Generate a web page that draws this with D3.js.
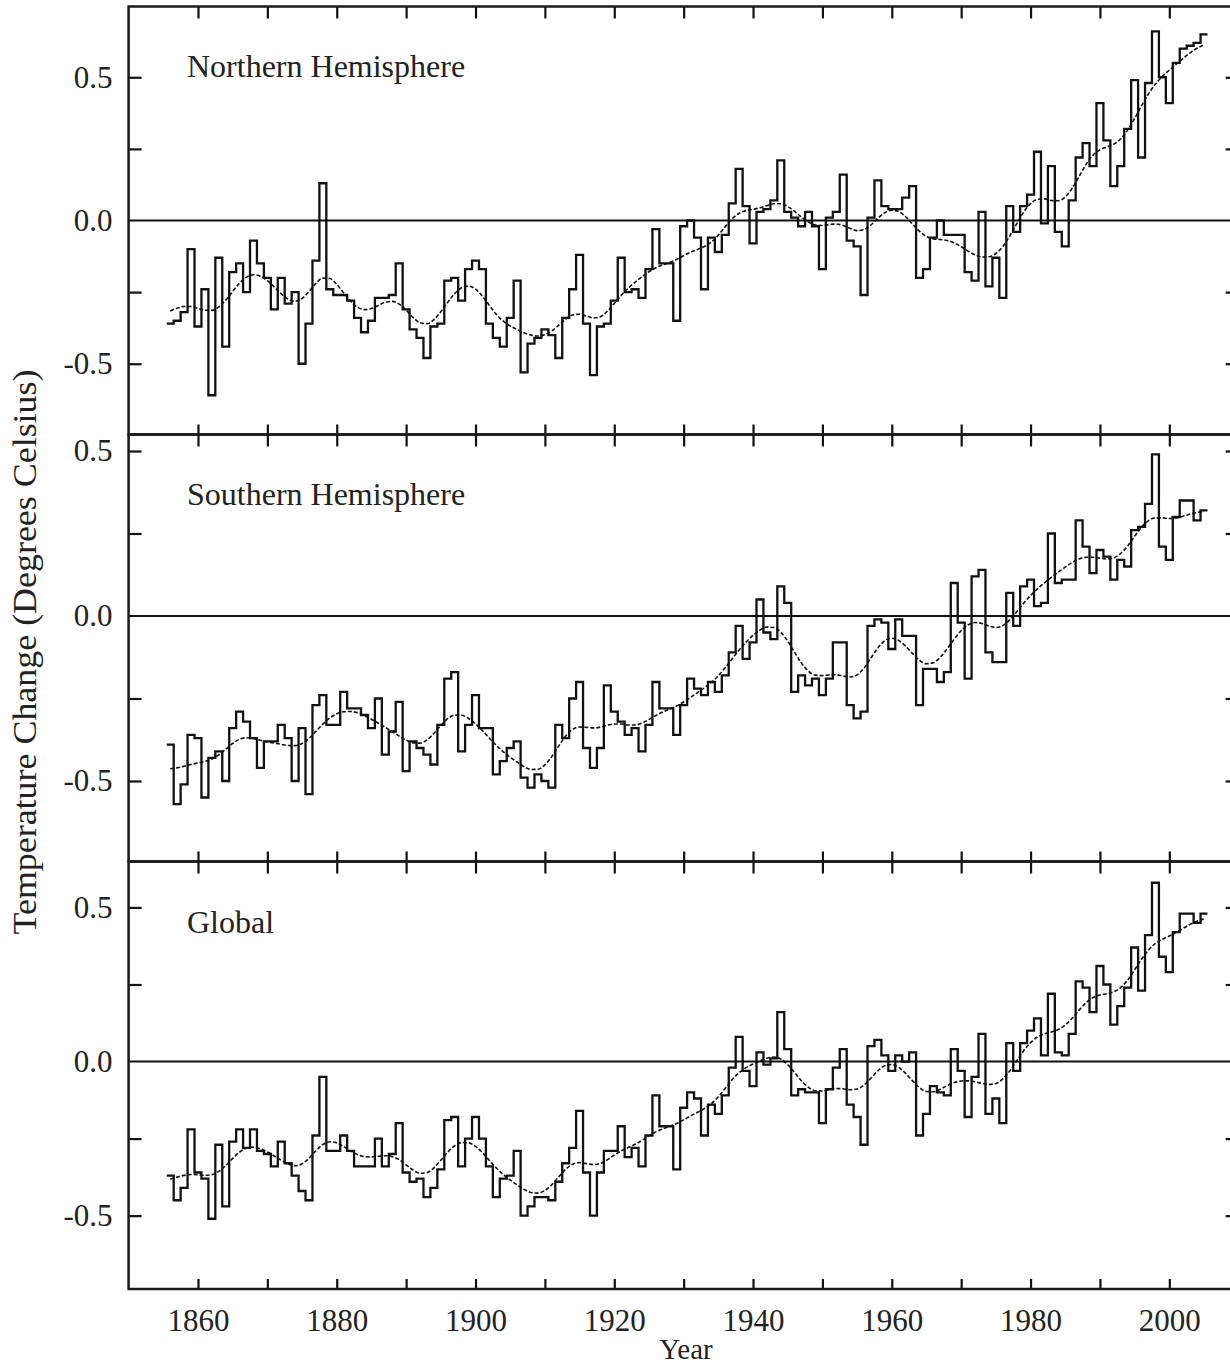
<!DOCTYPE html>
<html>
<head>
<meta charset="utf-8">
<script src="https://cdn.jsdelivr.net/npm/d3@7"></script>
<style>
  body { margin: 0; background: #fff; }
  svg text { font-family: "Liberation Serif", "DejaVu Serif", serif; fill: #222; }
</style>
</head>
<body>
<div id="chart"></div>
<script>
// annual anomalies, first value is 1856, last is 2005
const firstYear = 1856;

const nhTemps = [
  -0.36, -0.35, -0.32, -0.10, -0.37, -0.24, -0.61, -0.13, -0.44, -0.18,
  -0.15, -0.25, -0.07, -0.15, -0.20, -0.31, -0.20, -0.29, -0.25, -0.50,
  -0.36, -0.14,  0.13, -0.24, -0.26, -0.26, -0.28, -0.34, -0.39, -0.35,
  -0.27, -0.27, -0.26, -0.15, -0.31, -0.38, -0.41, -0.48, -0.37, -0.36,
  -0.21, -0.20, -0.28, -0.17, -0.14, -0.17, -0.36, -0.41, -0.44, -0.34,
  -0.21, -0.53, -0.43, -0.41, -0.38, -0.40, -0.48, -0.34, -0.24, -0.12,
  -0.36, -0.54, -0.37, -0.36, -0.28, -0.13, -0.25, -0.24, -0.27, -0.17,
  -0.03, -0.15, -0.15, -0.35, -0.02,  0.00, -0.06, -0.24, -0.06, -0.11,
  -0.05,  0.06,  0.18,  0.05, -0.08,  0.03,  0.04,  0.07,  0.21,  0.03,
   0.01, -0.02,  0.03, -0.02, -0.17,  0.01,  0.03,  0.16, -0.07, -0.09,
  -0.26,  0.01,  0.14,  0.05,  0.04,  0.04,  0.08,  0.12, -0.20, -0.17,
  -0.06,  0.00, -0.05, -0.05, -0.05, -0.18, -0.21,  0.03, -0.23, -0.13,
  -0.27,  0.05, -0.04,  0.05,  0.09,  0.24, -0.01,  0.19, -0.04, -0.09,
   0.07,  0.22,  0.27,  0.19,  0.41,  0.28,  0.12,  0.19,  0.32,  0.49,
   0.22,  0.48,  0.66,  0.50,  0.41,  0.55,  0.60,  0.61,  0.62,  0.65
];

const shTemps = [
  -0.39, -0.57, -0.51, -0.36, -0.37, -0.55, -0.43, -0.41, -0.50, -0.34,
  -0.29, -0.32, -0.37, -0.46, -0.38, -0.38, -0.33, -0.37, -0.50, -0.34,
  -0.54, -0.27, -0.24, -0.33, -0.33, -0.23, -0.28, -0.28, -0.30, -0.34,
  -0.25, -0.42, -0.35, -0.26, -0.47, -0.38, -0.40, -0.42, -0.45, -0.33,
  -0.19, -0.17, -0.41, -0.33, -0.24, -0.34, -0.34, -0.48, -0.44, -0.40,
  -0.38, -0.49, -0.52, -0.48, -0.50, -0.52, -0.33, -0.37, -0.25, -0.20,
  -0.40, -0.46, -0.40, -0.21, -0.29, -0.32, -0.36, -0.34, -0.41, -0.33,
  -0.20, -0.28, -0.28, -0.36, -0.27, -0.19, -0.22, -0.24, -0.20, -0.23,
  -0.18, -0.11, -0.03, -0.13, -0.08,  0.05, -0.05, -0.07,  0.09,  0.04,
  -0.23, -0.18, -0.21, -0.19, -0.24, -0.19, -0.08, -0.08, -0.27, -0.31,
  -0.29, -0.03, -0.01, -0.02, -0.10, -0.01, -0.06, -0.06, -0.27, -0.16,
  -0.16, -0.20, -0.17,  0.10, -0.02, -0.19,  0.12,  0.14, -0.11, -0.14,
  -0.14,  0.07, -0.03,  0.09,  0.11,  0.03,  0.04,  0.25,  0.10,  0.11,
   0.11,  0.29,  0.21,  0.13,  0.20,  0.18,  0.11,  0.17,  0.15,  0.26,
   0.27,  0.34,  0.49,  0.21,  0.17,  0.30,  0.35,  0.35,  0.29,  0.32
];

const globalTemps = [
  -0.37, -0.45, -0.41, -0.22, -0.36, -0.38, -0.51, -0.27, -0.47, -0.26,
  -0.22, -0.28, -0.22, -0.29, -0.30, -0.34, -0.26, -0.33, -0.37, -0.42,
  -0.45, -0.24, -0.05, -0.29, -0.29, -0.24, -0.29, -0.34, -0.34, -0.34,
  -0.25, -0.34, -0.30, -0.20, -0.36, -0.39, -0.38, -0.44, -0.41, -0.35,
  -0.19, -0.18, -0.34, -0.25, -0.18, -0.25, -0.34, -0.44, -0.38, -0.37,
  -0.29, -0.50, -0.47, -0.44, -0.44, -0.45, -0.39, -0.33, -0.28, -0.16,
  -0.36, -0.50, -0.36, -0.29, -0.29, -0.21, -0.31, -0.28, -0.34, -0.24,
  -0.11, -0.21, -0.21, -0.35, -0.15, -0.10, -0.12, -0.24, -0.14, -0.17,
  -0.11, -0.02,  0.08, -0.03, -0.08,  0.03, -0.01,  0.01,  0.16,  0.04,
  -0.11, -0.09, -0.10, -0.10, -0.20, -0.09, -0.02,  0.04, -0.14, -0.18,
  -0.27,  0.05,  0.07,  0.02, -0.03,  0.02,  0.00,  0.03, -0.24, -0.17,
  -0.08, -0.10, -0.11,  0.04, -0.03, -0.18, -0.05,  0.09, -0.17, -0.12,
  -0.20,  0.06, -0.03,  0.06,  0.10,  0.14,  0.02,  0.22,  0.03,  0.02,
   0.09,  0.26,  0.24,  0.16,  0.31,  0.25,  0.12,  0.18,  0.24,  0.37,
   0.23,  0.41,  0.58,  0.34,  0.29,  0.42,  0.48,  0.48,  0.45,  0.48
];

const panelNames = ["Northern Hemisphere", "Southern Hemisphere", "Global"];
const yLabelValues = [0.5, 0.0, -0.5];
const yTickValues = [0.5, 0.25, -0.25, -0.5];
const xTickYears = [1860, 1870, 1880, 1890, 1900, 1910, 1920, 1930, 1940, 1950, 1960, 1970, 1980, 1990, 2000];
const xLabelYears = [1860, 1880, 1900, 1920, 1940, 1960, 1980, 2000];

// 21-point binomial filter for the smooth curve
const binomWeights = (function(){
    let w = [1];
    for (let n = 0; n < 20; n++) {
        let next = [1];
        for (let k = 1; k < w.length; k++) next.push(w[k-1] + w[k]);
        next.push(1);
        w = next;
    }
    return w;
})();

function smooth(values) {
    const half = (binomWeights.length - 1) / 2;
    return values.map(function(v, i) {
        let s = 0, ws = 0;
        for (let k = -half; k <= half; k++) {
            const j = i + k;
            if (j >= 0 && j < values.length) {
                s += values[j] * binomWeights[k + half];
                ws += binomWeights[k + half];
            }
        }
        return s / ws;
    });
}

const W = 1230, H = 1368;
const svg = d3.select("#chart").append("svg")
    .attr("width", W)
    .attr("height", H);

const x = d3.scaleLinear().domain([1850, 2010]).range([128.6, 1238.7]);

const panels = [
    {name: panelNames[0], values: nhTemps, top: 6.5, bottom: 434.5, domain: [-0.747, 0.747], labelY: 77},
    {name: panelNames[1], values: shTemps, top: 434.5, bottom: 861.5, domain: [-0.744, 0.55], labelY: 505},
    {name: panelNames[2], values: globalTemps, top: 861.5, bottom: 1289, domain: [-0.738, 0.649], labelY: 933}
];

const fmt = function(d) { return d.toFixed(1); };

panels.forEach(function(p, pi) {
    const y = d3.scaleLinear().domain(p.domain).range([p.bottom, p.top]);
    const g = svg.append("g").attr("class", "panel");

    // zero line
    g.append("line")
        .attr("x1", x.range()[0]).attr("x2", x.range()[1])
        .attr("y1", y(0)).attr("y2", y(0))
        .attr("stroke", "#111").attr("stroke-width", 2);

    // inward ticks on all sides
    const tickStyle = function(sel) {
        sel.select(".domain").remove();
        sel.selectAll(".tick line").attr("stroke", "#111").attr("stroke-width", 2.2);
    };
    g.append("g").attr("transform", "translate(" + x.range()[0] + ",0)")
        .call(d3.axisLeft(y).tickValues(yTickValues).tickSize(-13).tickFormat(""))
        .call(tickStyle);
    g.append("g").attr("transform", "translate(" + x.range()[1] + ",0)")
        .call(d3.axisRight(y).tickValues(yTickValues).tickSize(-13).tickFormat(""))
        .call(tickStyle);
    g.append("g").attr("transform", "translate(0," + p.top + ")")
        .call(d3.axisTop(x).tickValues(xTickYears).tickSize(-12).tickFormat(""))
        .call(tickStyle);
    g.append("g").attr("transform", "translate(0," + p.bottom + ")")
        .call(d3.axisBottom(x).tickValues(xTickYears).tickSize(-10).tickFormat(""))
        .call(tickStyle);

    // y labels
    const yl = g.append("g").attr("transform", "translate(" + x.range()[0] + ",0)")
        .call(d3.axisLeft(y).tickValues(yLabelValues).tickSize(0).tickPadding(16).tickFormat(fmt));
    yl.select(".domain").remove();
    yl.selectAll("text").attr("font-size", 31).attr("font-family", "Liberation Serif").attr("fill", "#222");

    // annual values as steps
    const stepData = p.values.map(function(v, i) { return {year: firstYear + i - 0.5, value: v}; });
    stepData.push({year: firstYear + p.values.length - 0.5, value: p.values[p.values.length - 1]});
    const stepLine = d3.line()
        .x(function(d) { return x(d.year); })
        .y(function(d) { return y(d.value); })
        .curve(d3.curveStepAfter);
    g.append("path").datum(stepData)
        .attr("d", stepLine)
        .attr("fill", "none")
        .attr("stroke", "#111")
        .attr("stroke-width", 2.3)
        .attr("stroke-linejoin", "miter");

    // smoothed curve
    const sm = smooth(p.values).map(function(v, i) { return {year: firstYear + i, value: v}; });
    const smLine = d3.line()
        .x(function(d) { return x(d.year); })
        .y(function(d) { return y(d.value); })
        .curve(d3.curveMonotoneX);
    g.append("path").datum(sm)
        .attr("d", smLine)
        .attr("fill", "none")
        .attr("stroke", "#111")
        .attr("stroke-width", 1.6)
        .attr("stroke-dasharray", "4,2");

    // frame
    g.append("rect")
        .attr("x", x.range()[0]).attr("y", p.top)
        .attr("width", x.range()[1] - x.range()[0])
        .attr("height", p.bottom - p.top)
        .attr("fill", "none")
        .attr("stroke", "#1a1a1a")
        .attr("stroke-width", 2.5);

    // panel title
    g.append("text")
        .attr("x", 187).attr("y", p.labelY)
        .attr("font-size", 32)
        .text(p.name);

    if (pi == panels.length - 1) {
        const xl = g.append("g").attr("transform", "translate(0," + p.bottom + ")")
            .call(d3.axisBottom(x).tickValues(xLabelYears).tickSize(0).tickPadding(20).tickFormat(d3.format("d")));
        xl.select(".domain").remove();
        xl.selectAll("text").attr("font-size", 31).attr("font-family", "Liberation Serif").attr("fill", "#222");
    }
});

// axis titles
svg.append("text")
    .attr("x", 686).attr("y", 1359)
    .attr("text-anchor", "middle")
    .attr("font-size", 29)
    .text("Year");

svg.append("text")
    .attr("transform", "translate(36,652) rotate(-90)")
    .attr("text-anchor", "middle")
    .attr("font-size", 33)
    .attr("textLength", 565)
    .attr("lengthAdjust", "spacingAndGlyphs")
    .text("Temperature Change (Degrees Celsius)");
</script>
</body>
</html>
